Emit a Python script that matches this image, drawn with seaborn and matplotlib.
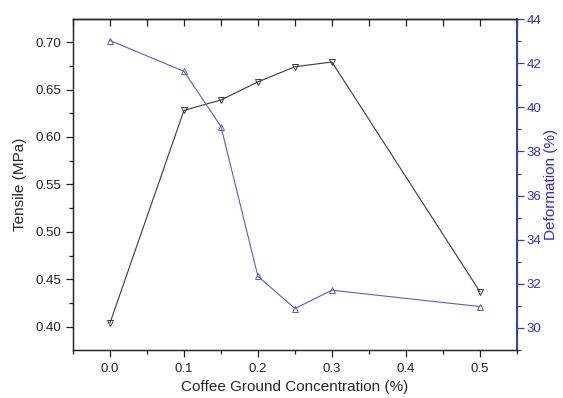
import matplotlib as mpl
mpl.use("Agg")
import matplotlib.pyplot as plt
import seaborn as sns
from matplotlib.ticker import MultipleLocator, FormatStrFormatter

sns.set_style("ticks")
plt.rcParams["font.family"] = ["Liberation Sans", "DejaVu Sans"]

# data
concentration = [0.0, 0.1, 0.15, 0.2, 0.25, 0.3, 0.5]
tensile = [0.404, 0.628, 0.639, 0.658, 0.674, 0.679, 0.437]
deformation = [43.03, 41.63, 39.13, 32.34, 30.88, 31.71, 30.97]

black = "#3a3a3a"
blue = "#5a5ad6"
axis_blue = "#3c3cb4"
label_blue = "#2e2ed0"

fig = plt.figure(figsize=(5.63, 3.98), dpi=100)
ax = fig.add_axes([0.1297, 0.1206, 0.918 - 0.1297, 0.952 - 0.1206])

sns.lineplot(x=concentration, y=tensile, ax=ax, color=black, linewidth=0.8,
             marker="v", markersize=4.5, markerfacecolor="none",
             markeredgecolor=black, markeredgewidth=0.7)

ax.set_xlim(-0.05, 0.55)
ax.set_ylim(0.3755, 0.7242)
ax.xaxis.set_major_locator(MultipleLocator(0.1))
ax.xaxis.set_minor_locator(MultipleLocator(0.05))
ax.yaxis.set_major_locator(MultipleLocator(0.05))
ax.yaxis.set_minor_locator(MultipleLocator(0.025))
ax.tick_params(axis="both", which="major", length=5, width=0.9, labelsize=9.5, colors="#222222")
ax.tick_params(axis="both", which="minor", length=3, width=0.9, colors="#222222")
ax.tick_params(axis="x", which="major", pad=4)
ax.xaxis.set_major_formatter(FormatStrFormatter("%.1f"))
ax.yaxis.set_major_formatter(FormatStrFormatter("%.2f"))
for side in ["left", "bottom", "top"]:
    ax.spines[side].set_linewidth(1.0)
    ax.spines[side].set_color("#222222")

ax.set_xlabel("Coffee Ground Concentration (%)", fontsize=11, labelpad=4)
ax.set_ylabel("Tensile (MPa)", fontsize=11, labelpad=6)

# inward ticks along the top edge
top = ax.secondary_xaxis("top")
top.xaxis.set_major_locator(MultipleLocator(0.1))
top.xaxis.set_minor_locator(MultipleLocator(0.05))
top.tick_params(axis="x", which="both", direction="in", length=5, width=0.9,
                labeltop=False, colors="#222222")
top.spines["top"].set_linewidth(1.0)
top.spines["top"].set_color("#222222")

ax2 = ax.twinx()
sns.lineplot(x=concentration, y=deformation, ax=ax2, color=blue, linewidth=0.8,
             marker="^", markersize=4.5, markerfacecolor="none",
             markeredgecolor=blue, markeredgewidth=0.7)
ax2.set_ylim(29, 44)
ax2.yaxis.set_major_locator(MultipleLocator(2))
ax2.yaxis.set_minor_locator(MultipleLocator(1))
ax2.tick_params(axis="y", which="major", length=5, width=0.9, labelsize=9.5,
                colors=axis_blue, labelcolor=label_blue, pad=2)
ax2.tick_params(axis="y", which="minor", length=3, width=0.9, colors=axis_blue)
ax2.spines["right"].set_color(axis_blue)
ax2.spines["right"].set_linewidth(1.4)
ax2.set_ylabel("Deformation (%)", fontsize=11, color=label_blue, labelpad=2)

fig.savefig("out.png", dpi=100)
